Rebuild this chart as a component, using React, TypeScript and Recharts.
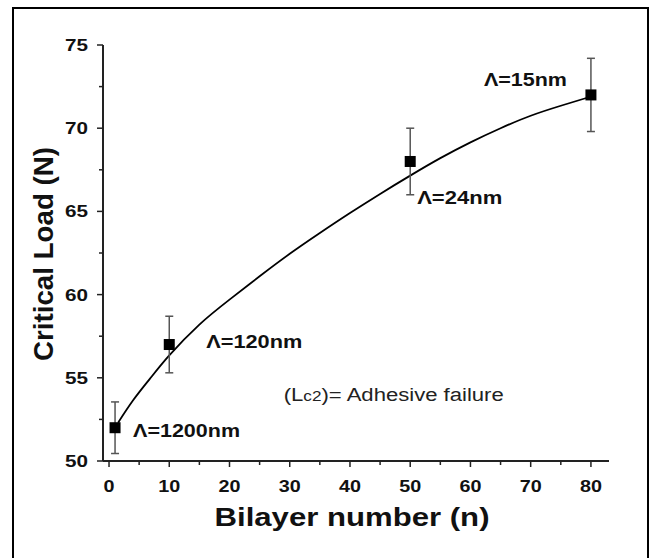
import React from 'react';
import { ComposedChart, Line, Scatter, ErrorBar, XAxis, YAxis, ReferenceDot, Label } from 'recharts';

// measured points
const bilayers = [1, 10, 50, 80];
const criticalLoad = [52, 57, 68, 72];
const loadError = [1.55, 1.7, 2.0, 2.2];
const periodLabels = ['Λ=1200nm', 'Λ=120nm', 'Λ=24nm', 'Λ=15nm'];

// fitted curve
const fitX = [1.5, 4, 6.8, 10, 15, 20, 25, 30, 35, 40, 45, 50, 55, 60, 65, 70, 75, 80];
const fitY = [52.3, 53.65, 54.95, 56.35, 58.2, 59.7, 61.1, 62.45, 63.7, 64.9, 66.05, 67.15, 68.2, 69.15, 70.0, 70.75, 71.35, 71.9];

const xTicks = [0, 5, 10, 15, 20, 25, 30, 35, 40, 45, 50, 55, 60, 65, 70, 75, 80];
const yTicks = [50, 52.5, 55, 57.5, 60, 62.5, 65, 67.5, 70, 72.5, 75];

const pointData = bilayers.map((x, i) => ({ x, y: criticalLoad[i], err: loadError[i] }));
const fitData = fitX.map((x, i) => ({ x, y: fitY[i] }));

const FONT = '"Liberation Sans", Arial, sans-serif';

// label placement relative to each point: [dx, dy, anchor, width]
const labelOffsets: [number, number, 'start' | 'end', number][] = [
  [18, 9, 'start', 107],
  [37, 3, 'start', 96],
  [7, 43, 'start', 85],
  [-24, -9, 'end', 83],
];

const YTick = (props: any) => {
  const { x, y, payload } = props;
  const v = payload.value as number;
  const major = v % 5 === 0;
  const s = String(v);
  return (
    <g>
      <line x1={x - (major ? 6 : 4)} x2={x} y1={y} y2={y} stroke="#222" strokeWidth={1.5} />
      {major && (
        <text x={x - 15} y={y + 6} textAnchor="end" fontFamily={FONT} fontWeight="bold" fontSize={17}
          fill="#111" textLength={s.length * 11.5} lengthAdjust="spacingAndGlyphs">{s}</text>
      )}
    </g>
  );
};

const XTick = (props: any) => {
  const { x, y, payload } = props;
  const v = payload.value as number;
  const major = v % 10 === 0;
  const s = String(v);
  return (
    <g>
      <line x1={x} x2={x} y1={y} y2={y + (major ? 6 : 4)} stroke="#222" strokeWidth={1.5} />
      {major && (
        <text x={x} y={y + 31} textAnchor="middle" fontFamily={FONT} fontWeight="bold" fontSize={17}
          fill="#111" textLength={s.length * 11} lengthAdjust="spacingAndGlyphs">{s}</text>
      )}
    </g>
  );
};

const Square = (p: any) => <rect x={p.cx - 5.5} y={p.cy - 5.5} width={11} height={11} fill="#000" />;

const makeLabel = (text: string, off: [number, number, 'start' | 'end', number]) => (props: any) => {
  const vb = props.viewBox;
  const cx = vb.x + vb.width / 2;
  const cy = vb.y + vb.height / 2;
  return (
    <text x={cx + off[0]} y={cy + off[1]} textAnchor={off[2]} fontFamily={FONT} fontWeight="bold" fontSize={18}
      fill="#111" textLength={off[3]} lengthAdjust="spacingAndGlyphs">{text}</text>
  );
};

const NoteLabel = (props: any) => {
  const vb = props.viewBox;
  const cx = vb.x + vb.width / 2;
  const cy = vb.y + vb.height / 2;
  return (
    <text x={cx} y={cy} fontFamily={FONT} fontSize={18} fill="#222" textLength={220} lengthAdjust="spacingAndGlyphs">
      (L<tspan fontSize={14}>c2</tspan>)= Adhesive failure
    </text>
  );
};

const XTitle = (props: any) => {
  const vb = props.viewBox;
  return (
    <text x={vb.x + vb.width / 2 - 4} y={vb.y + 65} textAnchor="middle" fontFamily={FONT} fontWeight="bold"
      fontSize={25} fill="#111" textLength={275} lengthAdjust="spacingAndGlyphs">Bilayer number (n)</text>
  );
};

const YTitle = (props: any) => {
  const vb = props.viewBox;
  const cy = vb.y + vb.height / 2 + 1;
  return (
    <text x={53} y={cy} transform={`rotate(-90 53 ${cy})`} textAnchor="middle" fontFamily={FONT} fontWeight="bold"
      fontSize={27} fill="#111" textLength={214} lengthAdjust="spacingAndGlyphs">Critical Load (N)</text>
  );
};

export default function App() {
  return (
    <div style={{ position: 'absolute', left: 0, top: 0, width: 653, height: 558, background: '#fff', overflow: 'hidden' }}>
      <div style={{ position: 'absolute', left: 12, top: 7, width: 637, height: 560, border: '2.5px solid #000', boxSizing: 'border-box' }} />
      <ComposedChart width={653} height={558} margin={{ top: 45, right: 44, bottom: 0, left: 0 }}>
        <XAxis dataKey="x" type="number" domain={[-1, 83]} ticks={xTicks} interval={0} allowDataOverflow
          height={97} tickSize={0} tickMargin={0} tickLine={false} tick={<XTick />}
          axisLine={{ stroke: '#222', strokeWidth: 2 }}>
          <Label content={<XTitle />} />
        </XAxis>
        <YAxis dataKey="y" type="number" domain={[50, 75]} ticks={yTicks} interval={0} allowDataOverflow
          width={103} tickSize={0} tickMargin={0} tickLine={false} tick={<YTick />}
          axisLine={{ stroke: '#222', strokeWidth: 2 }}>
          <Label content={<YTitle />} />
        </YAxis>
        <Line data={fitData} dataKey="y" type="natural" stroke="#000" strokeWidth={1.8} dot={false}
          activeDot={false} isAnimationActive={false} />
        <Scatter data={pointData} dataKey="y" shape={<Square />} isAnimationActive={false}>
          <ErrorBar dataKey="err" direction="y" width={4} stroke="#555" strokeWidth={1.5} isAnimationActive={false} />
        </Scatter>
        {pointData.map((p, i) => (
          <ReferenceDot key={i} x={p.x} y={p.y} r={1} fill="none" stroke="none"
            label={{ content: makeLabel(periodLabels[i], labelOffsets[i]) }} />
        ))}
        <ReferenceDot x={29} y={53.6} r={1} fill="none" stroke="none" label={{ content: <NoteLabel /> }} />
      </ComposedChart>
    </div>
  );
}
